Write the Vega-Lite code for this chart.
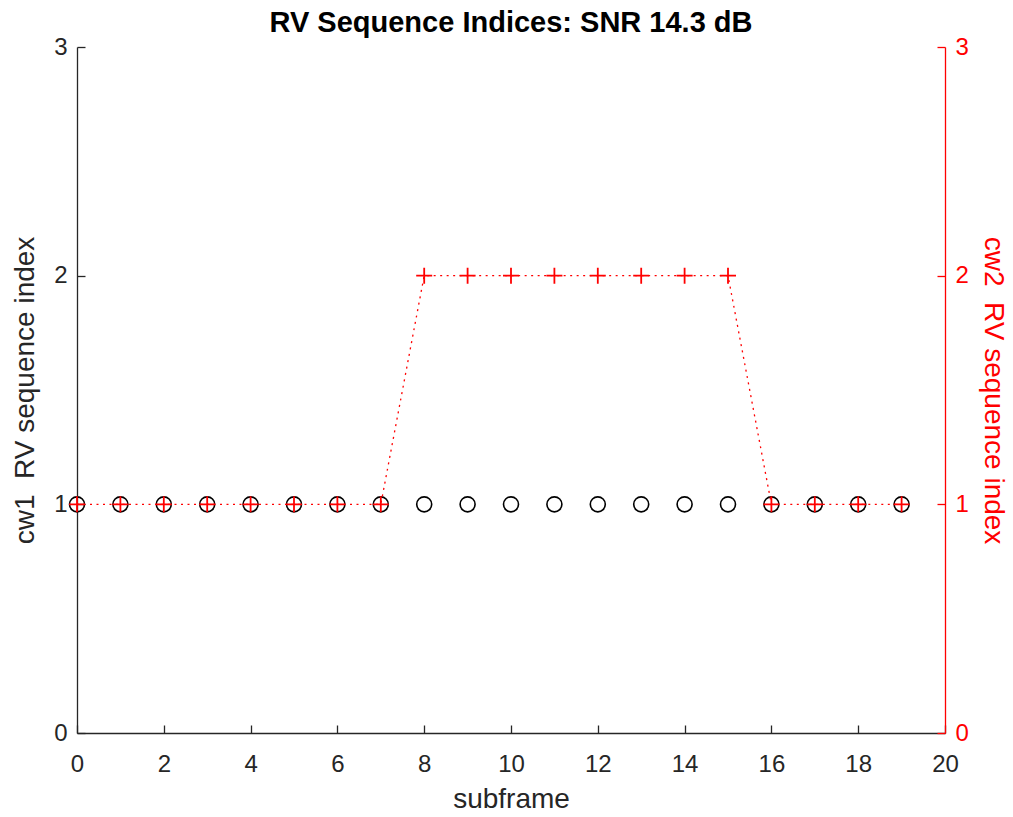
{
  "$schema": "https://vega.github.io/schema/vega-lite/v6.json",
  "width": 868,
  "height": 686,
  "autosize": {"type": "none"},
  "padding": {"left": 77, "top": 47, "right": 68, "bottom": 84},
  "background": "white",
  "title": {"text": "RV Sequence Indices: SNR 14.3 dB", "font": "Liberation Sans", "fontSize": 29, "fontWeight": "bold", "color": "#000000", "anchor": "middle", "offset": -3},
  "data": {"values": [
    {"subframe": 0, "cw1": 1, "cw2": 1},
    {"subframe": 1, "cw1": 1, "cw2": 1},
    {"subframe": 2, "cw1": 1, "cw2": 1},
    {"subframe": 3, "cw1": 1, "cw2": 1},
    {"subframe": 4, "cw1": 1, "cw2": 1},
    {"subframe": 5, "cw1": 1, "cw2": 1},
    {"subframe": 6, "cw1": 1, "cw2": 1},
    {"subframe": 7, "cw1": 1, "cw2": 1},
    {"subframe": 8, "cw1": 1, "cw2": 2},
    {"subframe": 9, "cw1": 1, "cw2": 2},
    {"subframe": 10, "cw1": 1, "cw2": 2},
    {"subframe": 11, "cw1": 1, "cw2": 2},
    {"subframe": 12, "cw1": 1, "cw2": 2},
    {"subframe": 13, "cw1": 1, "cw2": 2},
    {"subframe": 14, "cw1": 1, "cw2": 2},
    {"subframe": 15, "cw1": 1, "cw2": 2},
    {"subframe": 16, "cw1": 1, "cw2": 1},
    {"subframe": 17, "cw1": 1, "cw2": 1},
    {"subframe": 18, "cw1": 1, "cw2": 1},
    {"subframe": 19, "cw1": 1, "cw2": 1}
  ]},
  "config": {
    "view": {"stroke": null},
    "axis": {"labelFont": "Liberation Sans", "titleFont": "Liberation Sans", "labelFontSize": 24, "titleFontSize": 28, "titleFontWeight": "normal", "grid": false, "tickSize": -8, "domainWidth": 1.3, "tickWidth": 1.3}
  },
  "encoding": {
    "x": {"field": "subframe", "type": "quantitative", "scale": {"domain": [0, 20], "nice": false, "zero": false}, "axis": {"values": [0,2,4,6,8,10,12,14,16,18,20], "title": "subframe", "titleFontSize": 28, "labelColor": "#262626", "titleColor": "#262626", "domainColor": "#262626", "tickColor": "#262626", "labelPadding": 27, "titlePadding": 9, "labelFlush": false}}
  },
  "layer": [
    {
      "mark": {"type": "point", "shape": "circle", "filled": false, "stroke": "#000000", "strokeWidth": 1.6, "size": 225, "opacity": 1},
      "encoding": {"y": {"field": "cw1", "type": "quantitative", "scale": {"domain": [0, 3], "nice": false}, "axis": {"orient": "left", "values": [0,1,2,3], "title": "cw1\u00a0\u00a0RV sequence index", "labelColor": "#262626", "titleColor": "#262626", "domainColor": "#262626", "tickColor": "#262626", "labelPadding": 18, "titlePadding": 14}}}
    },
    {
      "mark": {"type": "line", "stroke": "#ff0000", "strokeWidth": 1.3, "strokeDash": [2, 4.5]},
      "encoding": {"y": {"field": "cw2", "type": "quantitative", "scale": {"domain": [0, 3], "nice": false}, "axis": {"orient": "right", "values": [0,1,2,3], "title": "cw2\u00a0\u00a0RV sequence index", "labelColor": "#ff0000", "titleColor": "#ff0000", "domainColor": "#ff0000", "tickColor": "#ff0000", "labelPadding": 18, "titlePadding": 10}}}
    },
    {
      "mark": {"type": "point", "shape": "M-1,0L1,0M0,-1L0,1", "filled": false, "stroke": "#ff0000", "strokeWidth": 1.8, "size": 256, "opacity": 1},
      "encoding": {"y": {"field": "cw2", "type": "quantitative", "scale": {"domain": [0, 3], "nice": false}, "axis": null}}
    }
  ],
  "resolve": {"scale": {"y": "independent"}}
}
